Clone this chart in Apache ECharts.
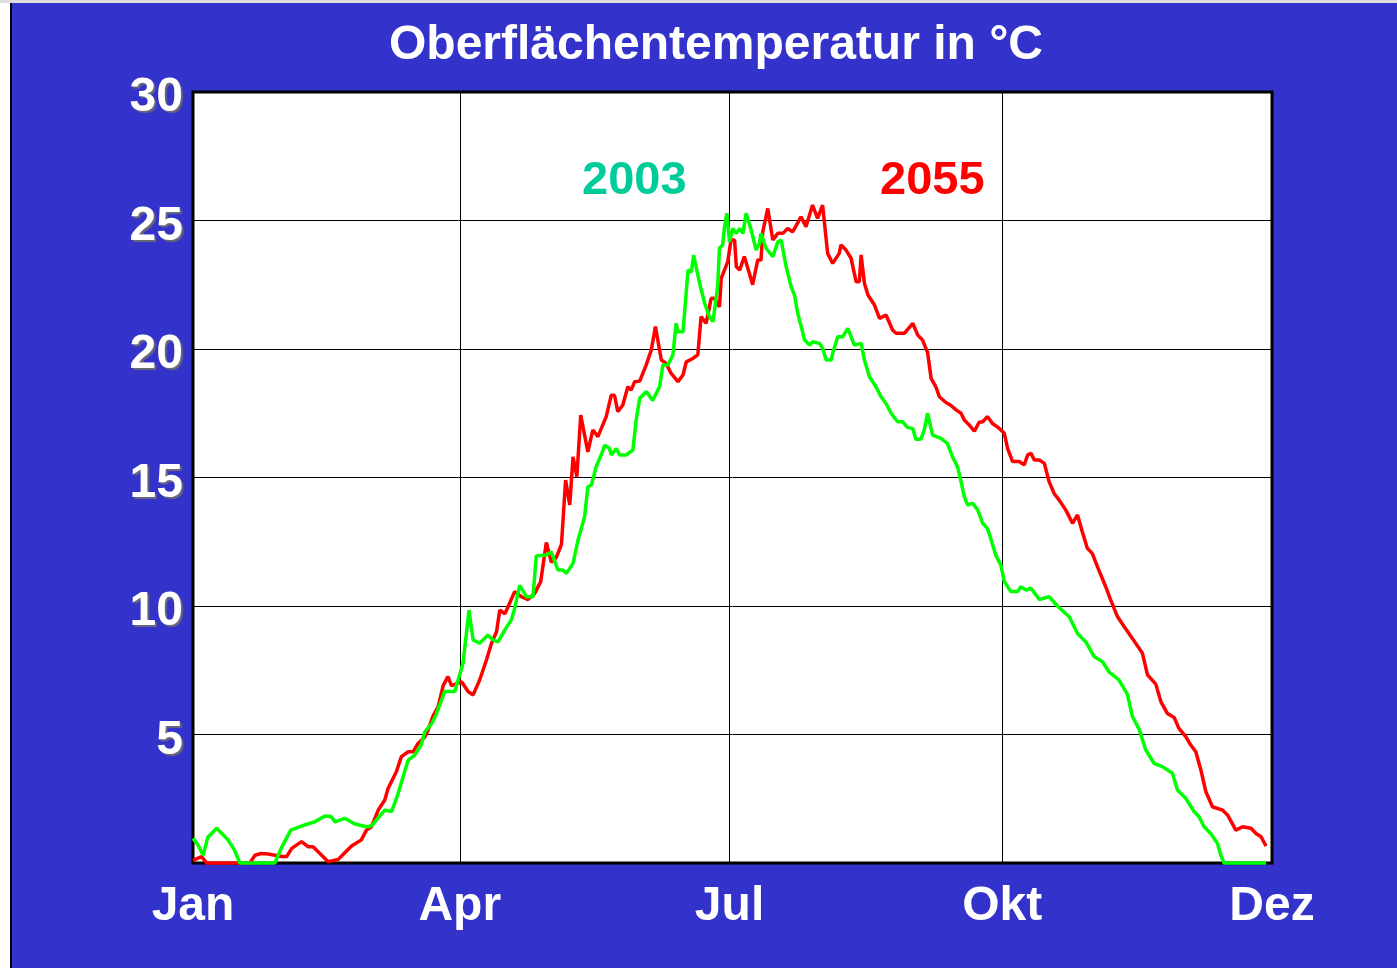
<!DOCTYPE html>
<html>
<head>
<meta charset="utf-8">
<title>Oberflächentemperatur</title>
<script src="https://cdn.jsdelivr.net/npm/echarts@6/dist/echarts.min.js"></script>
<style>
  html, body { margin: 0; padding: 0; background: #fff; }
  #main { width: 1397px; height: 968px; }
</style>
</head>
<body>
<div id="main"></div>
<script>
// Tagesnummer im Jahr (0 = 1. Jan) und Temperatur in °C
const days2003 = [0, 1.7, 3.4, 5, 8, 11.8, 14, 15.8, 27.6, 30, 33, 37.7, 41, 44.5, 46.7, 47.9, 51.2, 54.6, 58.5, 60.2,
  64.7, 67, 69.2, 71.5, 72.6, 74.8, 77, 78.2, 80.4, 82, 84.9, 88.3, 91.1, 93.1, 94.5, 96.7, 99.5, 101.2, 102.9, 105.2,
  107.4, 108.5, 110.2, 112.5, 114.7, 115.8, 119.2, 120.9, 123.1, 124.8, 126, 128.2, 129.9, 132.1, 133.2, 134.4, 136, 137.7, 138.9, 140.5,
  141.1, 142.8, 143.9, 146.2, 148.4, 149.5, 150.7, 152.9, 155.1, 157.4, 158.5, 160.2, 161.9, 163, 163.6, 165.3, 167, 168.1, 168.9, 170.9,
  172.6, 174.2, 175.4, 177, 177.6, 178.7, 179.3, 180.1, 181, 182.1, 183.3, 184.4, 185.5, 186.6, 188.3, 190, 191.1, 191.6, 193.3, 195.6,
  197.3, 198.4, 200.1, 201.8, 202.9, 204, 205.2, 206.3, 208, 209, 211.3, 212.4, 213.6, 215.3, 215.8, 217.5, 219.2, 220.9, 222, 223.1,
  225.4, 226.5, 228.2, 230.4, 232.1, 233.8, 235.5, 237.7, 239.4, 241, 242.8, 243.9, 245.6, 246.7, 247.8, 249.5, 252.3, 254.5, 256.2, 257.9,
  259.1, 260.2, 261.3, 263, 264.7, 266.4, 268, 269.1, 270.8, 272.5, 273.7, 275.9, 278.2, 279.3, 281, 282.7, 285.5, 287, 288.8, 291.6,
  295.6, 298.4, 301.2, 304, 306.8, 309, 312.4, 315.2, 316.9, 319.2, 321.4, 324.2, 327, 330.4, 332.1, 334.9, 337.7, 339.4, 341.1, 343.3,
  345.6, 346.7, 347.8, 362];
const temp2003 = [0.96, 0.7, 0.3, 1.0, 1.35, 0.9, 0.5, 0, 0, 0.63, 1.28, 1.48, 1.6, 1.83, 1.8, 1.6, 1.74, 1.52, 1.41, 1.44,
  2.06, 2.0, 2.7, 3.6, 4.0, 4.2, 4.6, 5.1, 5.4, 5.76, 6.67, 6.67, 7.77, 9.84, 8.68, 8.55, 8.87, 8.68, 8.6, 9.07,
  9.46, 9.9, 10.8, 10.36, 10.36, 11.95, 11.98, 12.1, 11.4, 11.4, 11.27, 11.66, 12.57, 13.47, 14.64, 14.71, 15.42, 15.88, 16.26, 16.13,
  15.88, 16.13, 15.88, 15.88, 16.07, 17.24, 18.08, 18.34, 18.0, 18.53, 19.38, 19.38, 19.77, 21.0, 20.67, 20.67, 23.07, 23.0, 23.65, 22.56,
  21.78, 21.26, 21.06, 22.42, 23.92, 24.05, 24.76, 25.28, 24.17, 24.69, 24.5, 24.69, 24.5, 25.28, 24.63, 23.85, 24.11, 24.5, 23.92, 23.59,
  24.17, 24.24, 23.2, 22.42, 22.1, 21.39, 20.87, 20.35, 20.15, 20.28, 20.22, 20.03, 19.57, 19.57, 19.83, 20.48, 20.48, 20.8, 20.48, 20.15,
  20.22, 19.57, 18.92, 18.53, 18.14, 17.88, 17.5, 17.17, 17.17, 16.95, 16.9, 16.48, 16.5, 16.85, 17.5, 16.65, 16.52, 16.33, 15.81, 15.42,
  14.84, 14.25, 13.93, 14.0, 13.74, 13.22, 13.02, 12.63, 11.98, 11.6, 10.95, 10.56, 10.56, 10.75, 10.62, 10.69, 10.25, 10.3, 10.36, 10.0,
  9.58, 8.93, 8.6, 8.03, 7.83, 7.44, 7.12, 6.57, 5.7, 5.2, 4.4, 3.88, 3.75, 3.49, 2.84, 2.52, 2.0, 1.8, 1.41, 1.15,
  0.77, 0.31, 0, 0];

const days2055 = [0, 2.9, 4.6, 19.2, 20.9, 23, 25.4, 29.9, 31.6, 33.3, 36.6, 38.9, 40.5, 43.4, 45.6, 49, 51.2, 53.5, 56.8, 58.5,
  60.2, 62.5, 64.7, 65.8, 68.6, 70.3, 72.6, 74.3, 75.9, 78.2, 79.3, 81, 82.7, 84.4, 86, 87.2, 90.6, 92.8, 94.5, 96.7,
  99, 100.7, 102.4, 103.5, 105.2, 106.3, 108.5, 110.8, 113, 115.3, 117.3, 119.2, 120.9, 122.6, 124.3, 125.7, 127.1, 128.2, 129.5, 130.8,
  133.2, 134.9, 136.6, 139.4, 141.1, 142.2, 143.3, 145, 146.7, 147.8, 149, 150.7, 152.9, 154.6, 156, 158, 159.6, 161.3, 163.6, 165.3,
  166.4, 168.6, 170.3, 171.4, 173.1, 174.8, 175.9, 177.6, 178.2, 180.4, 181.5, 182.7, 183.3, 184.4, 186, 187.7, 188.8, 190.5, 191.6, 192.2,
  193.9, 195.6, 197.3, 199, 200.6, 202.3, 205.1, 206.8, 209, 210.7, 212.4, 214.1, 215.8, 218, 218.6, 220.3, 222, 223.7, 224.8, 225.4,
  226.5, 227.7, 229.9, 231.6, 233.8, 236, 237.2, 240, 242.8, 244.5, 246.1, 247.8, 249, 250.6, 251.8, 254, 255.7, 257.4, 259.1, 260.2,
  261.9, 263.6, 265.2, 266.4, 268, 269.7, 272, 273.7, 274.8, 276.5, 278.7, 280.4, 281.6, 282.7, 283.8, 285.5, 287.2, 288.8, 290.5, 292.2,
  294.4, 296.7, 298.4, 300, 301.7, 303.4, 305.1, 307.9, 309.6, 311.9, 314.1, 316.9, 320.3, 322, 324.8, 326.5, 328.7, 331, 332.6, 334.9,
  336.6, 338.3, 340, 341.7, 343.9, 347.3, 349, 351.8, 354.1, 356.9, 358.6, 360.3, 362];
const temp2055 = [0.1, 0.25, 0, 0, 0.3, 0.37, 0.35, 0.25, 0.25, 0.57, 0.83, 0.63, 0.63, 0.3, 0.05, 0.14, 0.4, 0.66, 0.9, 1.28,
  1.41, 2.06, 2.45, 2.9, 3.55, 4.14, 4.33, 4.33, 4.65, 4.9, 5.17, 5.73, 6.08, 6.9, 7.25, 6.9, 7.05, 6.67, 6.54, 7.12,
  7.9, 8.55, 9.0, 9.84, 9.7, 9.97, 10.56, 10.36, 10.25, 10.5, 10.95, 12.47, 11.7, 11.9, 12.4, 14.9, 13.93, 15.8, 15.03, 17.43,
  16.0, 16.85, 16.59, 17.37, 18.2, 18.2, 17.56, 17.82, 18.53, 18.4, 18.73, 18.75, 19.38, 19.96, 20.87, 19.57, 19.44, 19.05, 18.73, 18.99,
  19.5, 19.63, 19.77, 21.26, 21.0, 21.97, 21.97, 21.64, 22.75, 23.4, 24.24, 24.24, 23.2, 23.07, 23.6, 22.94, 22.5, 23.46, 23.46, 24.56,
  25.47, 24.24, 24.5, 24.5, 24.69, 24.56, 25.14, 24.76, 25.6, 25.08, 25.6, 23.72, 23.33, 23.72, 24.05, 23.85, 23.53, 22.62, 22.62, 23.66,
  22.56, 22.1, 21.71, 21.19, 21.32, 20.74, 20.61, 20.61, 21.0, 20.54, 20.35, 19.87, 18.86, 18.53, 18.14, 17.92, 17.8, 17.63, 17.5, 17.24,
  17.04, 16.8, 17.15, 17.17, 17.37, 17.1, 16.91, 16.72, 16.13, 15.62, 15.62, 15.49, 15.88, 15.94, 15.68, 15.68, 15.55, 14.84, 14.38, 14.12,
  13.74, 13.22, 13.54, 12.89, 12.25, 12.04, 11.53, 10.75, 10.23, 9.58, 9.2, 8.74, 8.16, 7.32, 6.96, 6.28, 5.82, 5.66, 5.24, 4.92,
  4.59, 4.33, 3.62, 2.77, 2.19, 2.06, 1.87, 1.28, 1.41, 1.35, 1.15, 1.02, 0.66];

// Monatsmarken auf der Tagesachse
const monthDays = [0, 90, 181, 273, 364];
const monthNames = ['Jan', 'Apr', 'Jul', 'Okt', 'Dez'];

const fontFamily = 'Arial, "Liberation Sans", sans-serif';

function pairs(xs, ys) {
  return xs.map((x, i) => [x, ys[i]]);
}

const chart = echarts.init(document.getElementById('main'));

chart.setOption({
  backgroundColor: '#3333CC',
  animation: false,
  title: {
    text: 'Oberflächentemperatur in °C',
    left: 711,
    top: 17,
    textAlign: 'center',
    textStyle: {
      color: '#fff',
      fontFamily: fontFamily,
      fontWeight: 'bold',
      fontSize: 48
    }
  },
  grid: {
    left: 193,
    right: 125,
    top: 92,
    bottom: 105,
    show: true,
    backgroundColor: '#fff',
    borderColor: '#000',
    borderWidth: 3
  },
  xAxis: {
    type: 'value',
    min: 0,
    max: 364,
    axisLine: { show: false },
    axisTick: { show: false, customValues: monthDays },
    splitLine: {
      show: true,
      lineStyle: { color: '#000', width: 1 }
    },
    axisLabel: {
      customValues: monthDays,
      margin: 20,
      color: '#fff',
      fontFamily: fontFamily,
      fontWeight: 'bold',
      fontSize: 48,
      formatter: function (v) {
        const i = monthDays.indexOf(v);
        return i >= 0 ? monthNames[i] : '';
      }
    }
  },
  yAxis: {
    type: 'value',
    min: 0,
    max: 30,
    interval: 5,
    axisLine: { show: false },
    axisTick: { show: false },
    splitLine: {
      show: true,
      lineStyle: { color: '#000', width: 1 }
    },
    axisLabel: {
      margin: 10,
      formatter: function (v) { return v === 0 ? '' : '{n|' + v + '}'; },
      rich: {
        n: {
          padding: [12, 0, 0, 0],
          color: '#fff',
          fontFamily: fontFamily,
          fontWeight: 'bold',
          fontSize: 48,
          textShadowColor: 'rgba(110,110,110,0.9)',
          textShadowOffsetX: 2,
          textShadowOffsetY: 2,
          textShadowBlur: 1
        }
      }
    }
  },
  graphic: [
    { type: 'rect', shape: { x: 0, y: 0, width: 10, height: 968 }, style: { fill: '#fff' } },
    { type: 'rect', shape: { x: 10, y: 0, width: 2, height: 968 }, style: { fill: '#000' } },
    { type: 'rect', shape: { x: 0, y: 0, width: 1397, height: 3 }, style: { fill: '#ddd' } },
    {
      type: 'text', left: 582, top: 158, z: 10,
      style: {
        text: '2003', fill: '#00CC99', fontFamily: fontFamily, fontWeight: 'bold', fontSize: 47,
        textShadowColor: 'rgba(120,120,120,0.8)', textShadowOffsetX: 2, textShadowOffsetY: 2
      }
    },
    {
      type: 'text', left: 880, top: 158, z: 10,
      style: {
        text: '2055', fill: '#FF0000', fontFamily: fontFamily, fontWeight: 'bold', fontSize: 47,
        textShadowColor: 'rgba(120,120,120,0.8)', textShadowOffsetX: 2, textShadowOffsetY: 2
      }
    }
  ],
  series: [
    {
      name: '2055',
      type: 'line',
      data: pairs(days2055, temp2055),
      showSymbol: false,
      clip: false,
      lineStyle: { color: '#FF0000', width: 3.5 }
    },
    {
      name: '2003',
      type: 'line',
      data: pairs(days2003, temp2003),
      showSymbol: false,
      clip: false,
      lineStyle: { color: '#00FF00', width: 3.5 }
    }
  ]
});
</script>
</body>
</html>
